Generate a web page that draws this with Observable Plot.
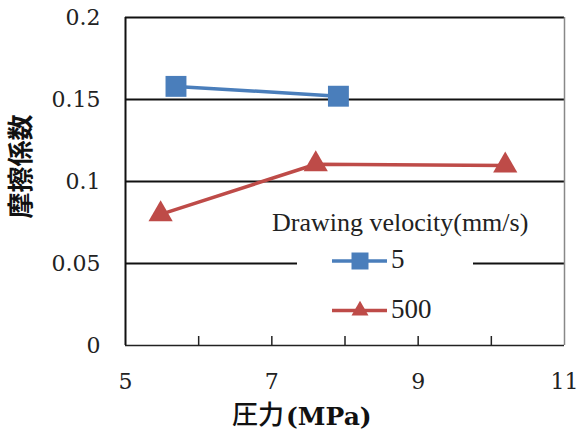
<!DOCTYPE html>
<html><head><meta charset="utf-8">
<script src="https://cdn.jsdelivr.net/npm/d3@7"></script>
<script src="https://cdn.jsdelivr.net/npm/@observablehq/plot@0.6"></script>
<style>
body{margin:0;background:#fff}
#wrap{position:relative;width:580px;height:437px}
#legend{position:absolute;left:0;top:0;pointer-events:none}
</style>
</head><body><div id="wrap"></div>
<script>
// ---- data ----
const pressure5 = [5.69, 7.91];
const mu5 = [0.158, 0.152];
const pressure500 = [5.48, 7.60, 10.19];
const mu500 = [0.080, 0.1105, 0.1098];
const seriesNames = ["5", "500"];
const legendTitle = "Drawing velocity(mm/s)";
const yTicks = [0, 0.05, 0.1, 0.15, 0.2];
const yTickLabels = ["0", "0.05", "0.1", "0.15", "0.2"];
const xTicks = [5, 7, 9, 11];
const xTickLabels = ["5", "7", "9", "11"];
const xMinorTicks = [6, 7, 8, 9, 10];
const gridValues = [0.05, 0.1, 0.15, 0.2];
const yLabel = "摩擦係数";
const xLabelJa = "圧力";
const xLabelUnit = "(MPa)";

// ---- chart ----
const blue = "#4A7EBB", red = "#BE4B48";
const d5 = pressure5.map((x, i) => ({x, y: mu5[i]}));
const d500 = pressure500.map((x, i) => ({x, y: mu500[i]}));
const tickFont = {fontFamily: "DejaVu Serif", fontSize: 22};

const chart = Plot.plot({
  width: 580, height: 437,
  marginLeft: 125, marginRight: 16, marginTop: 17, marginBottom: 92,
  x: {domain: [5, 11]},
  y: {domain: [0, 0.2]},
  style: {background: "#fff", fontFamily: "DejaVu Serif", fontSize: "22px", color: "#222", overflow: "visible"},
  marks: [
    Plot.ruleY(gridValues, {stroke: "#111", strokeWidth: 2}),
    Plot.ruleX([11], {stroke: "#888", strokeWidth: 1.5}),
    Plot.axisY({ticks: yTicks, tickSize: 0, tickPadding: 25, label: null,
      tickFormat: d => yTickLabels[yTicks.indexOf(d)], ...tickFont}),
    Plot.axisX({ticks: xTicks, tickSize: 0, tickPadding: 28, label: null,
      tickFormat: d => xTickLabels[xTicks.indexOf(d)], ...tickFont}),
    Plot.axisX({ticks: xMinorTicks, tickSize: -9, tickPadding: 0, label: null,
      tickFormat: () => "", strokeWidth: 1.5, stroke: "#222"}),
    Plot.ruleY([0], {stroke: "#222", strokeWidth: 1.5}),
    Plot.ruleX([5], {stroke: "#111", strokeWidth: 2}),
    Plot.line(d5, {x: "x", y: "y", stroke: blue, strokeWidth: 3.5}),
    Plot.dot(d5, {x: "x", y: "y", symbol: "square", r: 11.8, fill: blue}),
    Plot.line(d500, {x: "x", y: "y", stroke: red, strokeWidth: 3.5}),
    Plot.dot(d500, {x: "x", y: "y", symbol: "triangle", r: 9, fill: red}),
    Plot.text([yLabel], {frameAnchor: "left", dx: -104, dy: 37, rotate: -90,
      fontSize: 26, fontFamily: "Noto Sans CJK JP", fontWeight: 700, fill: "#111"}),
    Plot.text([xLabelJa], {frameAnchor: "bottom", dx: -61, dy: 78, textAnchor: "end",
      fontSize: 26, fontFamily: "Noto Sans CJK JP", fontWeight: 500, fill: "#111"}),
    Plot.text([xLabelUnit], {frameAnchor: "bottom", dx: -59, dy: 79, textAnchor: "start",
      fontSize: 25, fontFamily: "DejaVu Serif", fontWeight: 700, fill: "#111"})
  ]
});
const wrap = document.getElementById("wrap");
wrap.appendChild(chart);

// ---- legend (overlay) ----
const colors = [blue, red];
const symbols = [d3.symbolSquare, d3.symbolTriangle];
const symSizes = [289, 125];
const lg = d3.create("svg").attr("id", "legend").attr("width", 580).attr("height", 437);
lg.append("rect").attr("x", 297).attr("y", 245).attr("width", 176).attr("height", 90).attr("fill", "#fff");
lg.append("text").attr("x", 272).attr("y", 231).attr("font-family", "Liberation Serif")
  .attr("font-size", 26).attr("fill", "#222").text(legendTitle);
seriesNames.forEach((name, i) => {
  const cy = 261 + i * 49.5;
  lg.append("line").attr("x1", 332).attr("x2", 387).attr("y1", cy).attr("y2", cy)
    .attr("stroke", colors[i]).attr("stroke-width", 3.5);
  lg.append("path").attr("transform", `translate(360,${cy})`)
    .attr("d", d3.symbol(symbols[i], symSizes[i])()).attr("fill", colors[i]);
  lg.append("text").attr("x", 391).attr("y", cy + 7 + i * 0.5).attr("font-family", "Liberation Serif")
    .attr("font-size", 27).attr("fill", "#222").text(name);
});
wrap.appendChild(lg.node());
</script>
</body></html>
